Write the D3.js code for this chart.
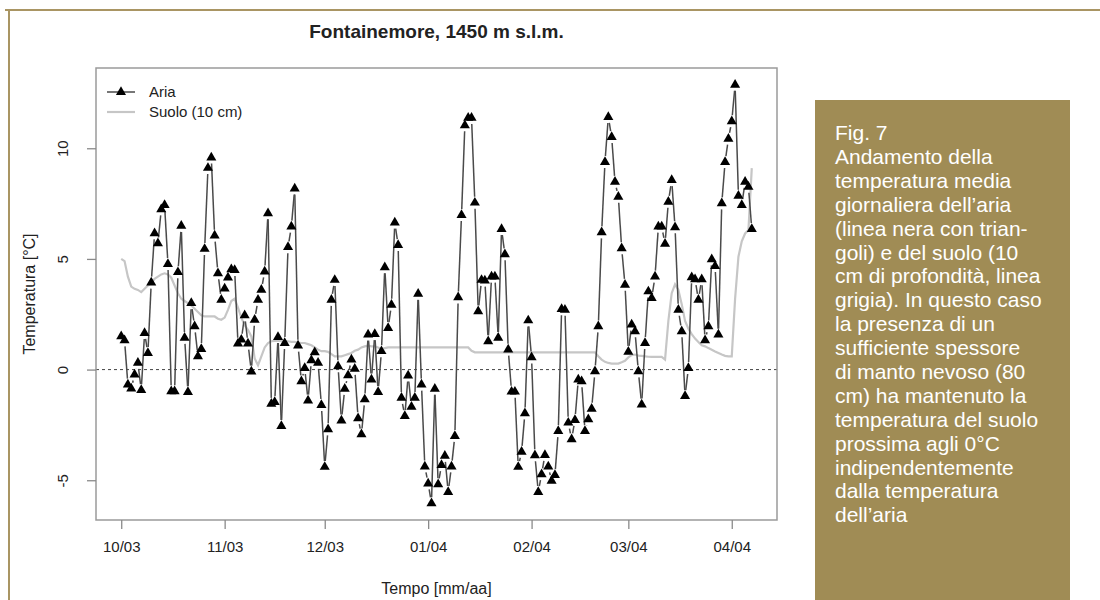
<!DOCTYPE html>
<html lang="it">
<head>
<meta charset="UTF-8">
<script src="https://cdnjs.cloudflare.com/ajax/libs/d3/7.8.5/d3.min.js"></script>
<style>
  body { margin: 0; background: #fff; }
  text { font-family: "Liberation Sans", Arial, sans-serif; }
</style>
</head>
<body>
<svg id="chart" width="1100" height="600"></svg>
<script>
// daily means, 01/10/2003 -> 07/04/2004
var firstDay = "2003-10-01";

var airTemp = [
  1.5, 1.32, -0.68, -0.86, -0.23, 0.3, -0.93, 1.65, 0.75, 3.93,
  6.16, 5.7, 7.24, 7.43, 4.77, -0.98, -0.98, 4.4, 6.49, 1.43,
  -1.02, 3.0, 1.95, 0.6, 0.93, 5.45, 9.11, 9.58, 6.05, 4.35,
  3.15, 3.66, 4.16, 4.53, 4.5, 1.17, 1.35, 2.45, 1.17, -0.09,
  2.25, 3.15, 3.6, 4.43, 7.06, -1.55, -1.47, 1.47, -2.55, 1.2,
  5.53, 6.46, 8.18, 1.08, -0.53, 0.07, -1.4, 0.42, 0.78, 0.3,
  -1.6, -4.4, -2.7, 3.15, 4.05, 0.15, -2.3, -0.87, -0.26, 0.45,
  0.03, -2.2, -2.93, -1.35, 1.58, -0.45, 1.6, -1.02, 0.83, 4.62,
  1.88, 2.93, 6.64, 5.63, -1.28, -2.1, -0.27, -1.68, -1.28, 3.42,
  -0.68, -4.38, -5.15, -6.04, -0.87, -5.18, -4.32, -3.9, -5.53, -4.38,
  -3.0, 3.26, 6.98, 11.04, 11.37, 11.37, 7.54, 2.63, 4.05, 4.02,
  1.28, 4.2, 4.2, 1.43, 6.35, 5.21, 0.9, -1.0, -1.0, -4.4,
  -3.72, -1.98, 2.22, 0.55, -3.87, -5.53, -4.73, -3.86, -4.38, -5.03,
  -4.77, -2.78, 2.73, 2.7, -2.4, -3.15, -2.28, -0.45, -0.53, -2.78,
  -2.25, -1.77, -0.08, 1.95, 6.2, 9.38, 11.41, 10.51, 8.48, 7.81,
  5.48, 3.83, 0.8, 2.03, 1.73, -0.08, -1.58, 1.2, 3.53, 3.23,
  4.2, 6.46, 6.46, 5.68, 7.58, 8.56, 6.43, 2.7, 1.73, -1.2,
  0.07, 4.17, 4.08, 3.15, 4.08, 1.32, 1.95, 4.98, 4.68, 1.58,
  7.51, 9.38, 10.43, 11.22, 12.87, 7.85, 7.43, 8.48, 8.26, 6.35
];

var soilTemp = [
  5.0, 4.9, 4.2, 3.75, 3.65, 3.6, 3.5, 3.65, 3.8, 3.9,
  4.1, 4.2, 4.3, 4.35, 4.3, 4.15, 3.8, 3.45, 3.2, 3.1,
  3.0, 2.9, 2.75, 2.6, 2.45, 2.4, 2.4, 2.4, 2.4, 2.3,
  2.25, 2.35, 2.7, 3.1, 3.2, 2.8, 2.35, 2.0, 1.8, 1.5,
  0.5, 0.2, 0.6, 1.0, 1.2, 1.28, 1.3, 1.3, 1.3, 1.28,
  1.28, 1.25, 1.25, 1.22, 1.2, 1.2, 1.15, 1.1, 1.0, 0.9,
  0.83, 0.83, 0.8, 0.7, 0.6, 0.6, 0.6, 0.65, 0.7, 0.75,
  0.85, 0.9, 1.0, 1.05, 1.08, 1.05, 1.05, 1.0, 0.93, 0.97,
  1.0, 1.0, 1.0, 1.0, 1.0, 1.0, 1.0, 1.0, 1.0, 1.0,
  1.0, 1.0, 1.0, 1.0, 1.0, 1.0, 1.0, 1.0, 1.0, 1.0,
  1.0, 1.0, 1.0, 1.0, 1.0, 0.85, 0.78, 0.78, 0.78, 0.78,
  0.78, 0.78, 0.78, 0.78, 0.78, 0.78, 0.78, 0.78, 0.78, 0.78,
  0.78, 0.78, 0.78, 0.78, 0.78, 0.78, 0.78, 0.78, 0.78, 0.78,
  0.78, 0.78, 0.78, 0.78, 0.78, 0.78, 0.78, 0.78, 0.78, 0.78,
  0.78, 0.78, 0.78, 0.6, 0.45, 0.35, 0.3, 0.27, 0.27, 0.27,
  0.33, 0.4, 0.55, 0.65, 0.68, 0.63, 0.62, 0.6, 0.58, 0.57,
  0.57, 0.57, 0.57, 0.45, 2.2, 3.45, 3.85, 3.6, 2.95, 2.2,
  1.85, 1.6, 1.4, 1.25, 1.1, 1.05, 0.97, 0.9, 0.82, 0.75,
  0.68, 0.62, 0.6, 0.6, 3.2, 5.1, 5.8, 6.15, 6.3, 9.1
];

var tickMonths = ["2003-10-01", "2003-11-01", "2003-12-01", "2004-01-01", "2004-02-01", "2004-03-01", "2004-04-01"];
var tickLabels = ["10/03", "11/03", "12/03", "01/04", "02/04", "03/04", "04/04"];
var yTicks = [-5, 0, 5, 10];

var legendLabels = ["Aria", "Suolo (10 cm)"];
var chartTitle = "Fontainemore, 1450 m s.l.m.";
var xTitle = "Tempo [mm/aa]";
var yTitle = "Temperatura [°C]";

var caption = [
  "Fig. 7",
  "Andamento della",
  "temperatura media",
  "giornaliera dell\u2019aria",
  "(linea nera con trian-",
  "goli) e del suolo (10",
  "cm di profondità, linea",
  "grigia). In questo caso",
  "la presenza di un",
  "sufficiente spessore",
  "di manto nevoso (80",
  "cm) ha mantenuto la",
  "temperatura del suolo",
  "prossima agli 0°C",
  "indipendentemente",
  "dalla temperatura",
  "dell\u2019aria"
];

(function () {
    var svg = d3.select("#chart");
    var gold = "#a08c55";

    // page frame + caption panel
    svg.append("line").attr("x1", 5).attr("x2", 1100).attr("y1", 10).attr("y2", 10)
        .attr("stroke", "#a99563").attr("stroke-width", 2);
    svg.append("line").attr("x1", 9).attr("x2", 9).attr("y1", 10).attr("y2", 600)
        .attr("stroke", "#a99563").attr("stroke-width", 2);

    svg.append("rect").attr("x", 815).attr("y", 100).attr("width", 255).attr("height", 500)
        .attr("fill", gold);

    svg.append("text")
        .attr("x", 835).attr("y", 140)
        .attr("fill", "#fff").style("font-size", "21px")
        .selectAll("tspan").data(caption).enter()
        .append("tspan")
        .attr("x", 835).attr("dy", function (d, i) { return i === 0 ? 0 : 23.9; })
        .text(function (d) { return d; });

    // chart
    var parse = d3.utcParse("%Y-%m-%d");
    var t0 = parse(firstDay);
    var air = airTemp.map(function (v, i) { return {date: d3.utcDay.offset(t0, i), value: v}; });
    var soil = soilTemp.map(function (v, i) { return {date: d3.utcDay.offset(t0, i), value: v}; });

    var pl = 96, pr = 777, pt = 68, pb = 520;

    // R style: pad data range by 4%
    var xExt = d3.extent(air, function (d) { return d.date; });
    var span = xExt[1] - xExt[0];
    var x = d3.scaleUtc()
        .domain([new Date(+xExt[0] - 0.04 * span), new Date(+xExt[1] + 0.04 * span)])
        .range([pl, pr]);

    var yExt = d3.extent(airTemp);
    var ySpan = yExt[1] - yExt[0];
    var y = d3.scaleLinear()
        .domain([yExt[0] - 0.04 * ySpan, yExt[1] + 0.04 * ySpan])
        .range([pb, pt]);

    var ink = "#222";
    var airLine = "#4a4a4a";

    // zero reference line
    svg.append("line")
        .attr("x1", pl).attr("x2", pr)
        .attr("y1", y(0)).attr("y2", y(0))
        .attr("stroke", "#444").attr("stroke-width", 1).attr("stroke-dasharray", "3,3");

    // soil line
    var line = d3.line()
        .x(function (d) { return x(d.date); })
        .y(function (d) { return y(d.value); });

    svg.append("path")
        .datum(soil)
        .attr("d", line)
        .attr("fill", "none")
        .attr("stroke", "#c6c6c6")
        .attr("stroke-width", 2.2);

    // air: R type="b" -> segments with gaps around the points
    var gap = 6;
    var segs = d3.pairs(air).map(function (p) {
        var x1 = x(p[0].date), y1 = y(p[0].value), x2 = x(p[1].date), y2 = y(p[1].value);
        var dx = x2 - x1, dy = y2 - y1, len = Math.sqrt(dx * dx + dy * dy);
        if (len <= 2 * gap) return null;
        var ux = dx / len, uy = dy / len;
        return [x1 + ux * gap, y1 + uy * gap, x2 - ux * gap, y2 - uy * gap];
    }).filter(function (s) { return s; });

    svg.append("g").selectAll("line").data(segs).enter()
        .append("line")
        .attr("x1", function (s) { return s[0]; })
        .attr("y1", function (s) { return s[1]; })
        .attr("x2", function (s) { return s[2]; })
        .attr("y2", function (s) { return s[3]; })
        .attr("stroke", airLine)
        .attr("stroke-width", 1.5);

    var tri = d3.symbol().type(d3.symbolTriangle).size(44);
    svg.append("g").selectAll("path").data(air).enter()
        .append("path")
        .attr("d", tri)
        .attr("transform", function (d) { return "translate(" + x(d.date) + "," + y(d.value) + ")"; })
        .attr("fill", "#000");

    // box
    svg.append("rect")
        .attr("x", pl).attr("y", pt)
        .attr("width", pr - pl).attr("height", pb - pt)
        .attr("fill", "none").attr("stroke", "#9a9a9a").attr("stroke-width", 1.5);

    // x axis
    var xAxis = d3.axisBottom(x)
        .tickValues(tickMonths.map(parse))
        .tickFormat(function (d, i) { return tickLabels[i]; })
        .tickSize(9).tickPadding(12);

    var gx = svg.append("g").attr("transform", "translate(0," + pb + ")").call(xAxis);
    gx.select(".domain").remove();
    gx.selectAll(".tick line").attr("stroke", "#8a8a8a").attr("stroke-width", 1.3);
    gx.selectAll(".tick text").attr("fill", ink)
        .style("font-size", "15px").style("font-family", "Liberation Sans, Arial, sans-serif");

    // y axis
    var yAxis = d3.axisLeft(y).tickValues(yTicks).tickSize(9).tickPadding(0)
        .tickFormat(function (d) { return d < 0 ? "-" + Math.abs(d) : d; });
    var gy = svg.append("g").attr("transform", "translate(" + pl + ",0)").call(yAxis);
    gy.select(".domain").remove();
    gy.selectAll(".tick line").attr("stroke", "#8a8a8a").attr("stroke-width", 1.3);
    gy.selectAll(".tick text")
        .attr("x", 0).attr("dy", 0)
        .attr("text-anchor", "middle")
        .attr("transform", "translate(-28,0) rotate(-90)")
        .attr("fill", ink)
        .style("font-size", "15px").style("font-family", "Liberation Sans, Arial, sans-serif");

    // titles
    svg.append("text")
        .attr("x", (pl + pr) / 2).attr("y", 38)
        .attr("text-anchor", "middle")
        .attr("fill", ink)
        .style("font-size", "19px").style("font-weight", "bold")
        .text(chartTitle);

    svg.append("text")
        .attr("x", (pl + pr) / 2).attr("y", 594)
        .attr("text-anchor", "middle")
        .attr("fill", ink)
        .style("font-size", "16px")
        .text(xTitle);

    svg.append("text")
        .attr("transform", "translate(35," + (pt + pb) / 2 + ") rotate(-90)")
        .attr("text-anchor", "middle")
        .attr("fill", ink)
        .style("font-size", "16px")
        .text(yTitle);

    // legend
    var leg = svg.append("g");
    var legY = [92, 112];
    leg.append("line").attr("x1", 107).attr("x2", 135).attr("y1", legY[0]).attr("y2", legY[0])
        .attr("stroke", airLine).attr("stroke-width", 1.5);
    leg.append("path").attr("d", tri).attr("transform", "translate(121," + legY[0] + ")").attr("fill", "#000");
    leg.append("line").attr("x1", 107).attr("x2", 135).attr("y1", legY[1]).attr("y2", legY[1])
        .attr("stroke", "#c6c6c6").attr("stroke-width", 2.2);
    leg.selectAll("text").data(legendLabels).enter()
        .append("text")
        .attr("x", 149).attr("y", function (d, i) { return legY[i] + 5; })
        .attr("fill", ink)
        .style("font-size", "15px")
        .text(function (d) { return d; });
})();
</script>
</body>
</html>
